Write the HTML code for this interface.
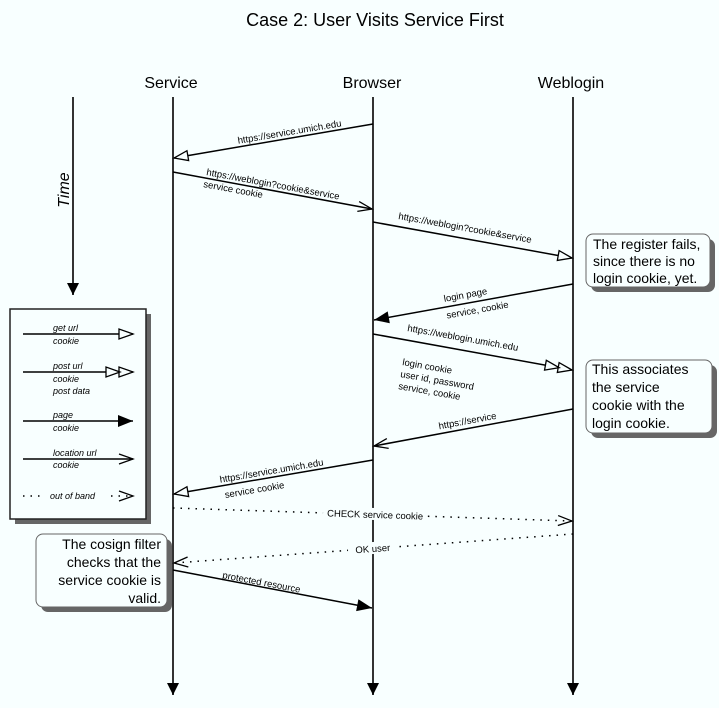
<!DOCTYPE html>
<html><head><meta charset="utf-8"><style>
html,body{margin:0;padding:0;background:#f8ffff;}
svg{display:block;font-family:"Liberation Sans",Arial,sans-serif;}
</style></head><body>
<svg width="719" height="708" viewBox="0 0 719 708" xmlns="http://www.w3.org/2000/svg">
<defs>
<marker id="tri" viewBox="-16 -8 18 16" refX="0" refY="0" markerWidth="18" markerHeight="16" markerUnits="userSpaceOnUse" orient="auto"><path d="M0,0 L-14,-5 L-14,5 Z" fill="#f8ffff" stroke="#000" stroke-width="1.3"/></marker>
<marker id="dtri" viewBox="-30 -8 32 16" refX="0" refY="0" markerWidth="32" markerHeight="16" markerUnits="userSpaceOnUse" orient="auto"><path d="M-13,0 L-27,-5 L-27,5 Z M0,0 L-14,-5 L-14,5 Z" fill="#f8ffff" stroke="#000" stroke-width="1.3"/></marker>
<marker id="fill" viewBox="-16 -8 18 16" refX="0" refY="0" markerWidth="18" markerHeight="16" markerUnits="userSpaceOnUse" orient="auto"><path d="M0,0 L-15,-6 L-15,6 Z" fill="#000"/></marker>
<marker id="vee" viewBox="-16 -8 18 16" refX="0" refY="0" markerWidth="18" markerHeight="16" markerUnits="userSpaceOnUse" orient="auto"><path d="M-14,-5 L0,0 L-14,5" fill="none" stroke="#000" stroke-width="1.3"/></marker>
<marker id="down" viewBox="-8 -14 16 16" refX="0" refY="0" markerWidth="16" markerHeight="16" markerUnits="userSpaceOnUse" orient="0"><path d="M-6,-12 L6,-12 L0,0 Z" fill="#000"/></marker>
</defs>
<rect width="719" height="708" fill="#f8ffff"/>
<text x="375" y="26" font-size="18" text-anchor="middle">Case 2: User Visits Service First</text>
<g font-size="16" text-anchor="middle">
<text x="171" y="88">Service</text>
<text x="372" y="88">Browser</text>
<text x="571" y="88">Weblogin</text>
</g>
<g stroke="#333" stroke-width="2">
<line x1="173" y1="97" x2="173" y2="695" marker-end="url(#down)"/>
<line x1="373" y1="97" x2="373" y2="695" marker-end="url(#down)"/>
<line x1="573" y1="97" x2="573" y2="695" marker-end="url(#down)"/>
<line x1="73" y1="97" x2="73" y2="295" marker-end="url(#down)"/>
</g>
<text transform="translate(69,190) rotate(-90)" font-size="16" font-style="italic" text-anchor="middle">Time</text>

<g stroke="#000" stroke-width="1.5" fill="none">
<line x1="373" y1="124" x2="174" y2="158" marker-end="url(#tri)"/>
<line x1="173" y1="172" x2="372" y2="209" marker-end="url(#vee)"/>
<line x1="373" y1="222" x2="572" y2="258" marker-end="url(#tri)"/>
<line x1="573" y1="284" x2="374" y2="320" marker-end="url(#fill)"/>
<line x1="373" y1="334" x2="572" y2="370" marker-end="url(#dtri)"/>
<line x1="573" y1="409" x2="374" y2="446" marker-end="url(#vee)"/>
<line x1="373" y1="460" x2="174" y2="494" marker-end="url(#tri)"/>
<line x1="173" y1="570" x2="372" y2="608" marker-end="url(#fill)"/>
<line x1="173" y1="508" x2="572" y2="521" stroke-dasharray="1.5 6" marker-end="url(#vee)"/>
<line x1="573" y1="534" x2="174" y2="563" stroke-dasharray="1.5 6" marker-end="url(#vee)"/>
</g>

<g font-size="9.5" fill="#000">
<text transform="translate(290,135) rotate(-9.6)" text-anchor="middle">https://service.umich.edu</text>
<text transform="translate(206,175) rotate(10.5)">https://weblogin?cookie&amp;service</text>
<text transform="translate(203,187) rotate(10.5)">service cookie</text>
<text transform="translate(398,219) rotate(10.2)">https://weblogin?cookie&amp;service</text>
<text transform="translate(466,298) rotate(-10.2)" text-anchor="middle">login page</text>
<text transform="translate(478,313) rotate(-10.2)" text-anchor="middle">service, cookie</text>
<text transform="translate(407,331) rotate(10.2)">https://weblogin.umich.edu</text>
<text transform="translate(402,365) rotate(10)">login cookie</text>
<text transform="translate(400,377) rotate(10)">user id, password</text>
<text transform="translate(398,389) rotate(10)">service, cookie</text>
<text transform="translate(468,424) rotate(-10.5)" text-anchor="middle">https://service</text>
<text transform="translate(272,474) rotate(-9.6)" text-anchor="middle">https://service.umich.edu</text>
<text transform="translate(255,493) rotate(-9.6)" text-anchor="middle">service cookie</text>
<text transform="translate(222,578) rotate(10.7)">protected resource</text>
</g>
<g font-size="9.5">
<rect x="323" y="508" width="104" height="12" fill="#f8ffff" transform="rotate(1.9 375 515)"/>
<text transform="translate(375,518) rotate(1.9)" text-anchor="middle">CHECK service cookie</text>
<rect x="348" y="542" width="50" height="12" fill="#f8ffff" transform="rotate(-4.1 373 549)"/>
<text transform="translate(373,552) rotate(-4.1)" text-anchor="middle">OK user</text>
</g>

<!-- notes -->
<g font-size="14">
<rect x="591" y="239" width="124" height="53" rx="7" fill="#666"/>
<rect x="586" y="234" width="124" height="53" rx="7" fill="#f8ffff" stroke="#666"/>
<text x="593" y="249">The register fails,</text>
<text x="593" y="266">since there is no</text>
<text x="593" y="283">login cookie, yet.</text>

<rect x="591" y="365" width="126" height="73" rx="7" fill="#666"/>
<rect x="586" y="360" width="126" height="73" rx="7" fill="#f8ffff" stroke="#666"/>
<text x="592" y="374">This associates</text>
<text x="592" y="392">the service</text>
<text x="592" y="410">cookie with the</text>
<text x="592" y="428">login cookie.</text>

<rect x="41" y="539" width="131" height="73" rx="7" fill="#666"/>
<rect x="36" y="534" width="131" height="73" rx="7" fill="#f8ffff" stroke="#666"/>
<g text-anchor="end">
<text x="161" y="549">The cosign filter</text>
<text x="161" y="567">checks that the</text>
<text x="161" y="585">service cookie is</text>
<text x="161" y="603">valid.</text>
</g>
</g>

<!-- legend -->
<rect x="15" y="314" width="136" height="210" fill="#666"/>
<rect x="10" y="309" width="136" height="210" fill="#f8ffff" stroke="#222" stroke-width="1.5"/>
<g stroke="#000" stroke-width="1.5" fill="none">
<line x1="23" y1="334" x2="133" y2="334" marker-end="url(#tri)"/>
<line x1="23" y1="372" x2="133" y2="372" marker-end="url(#dtri)"/>
<line x1="23" y1="421" x2="133" y2="421" marker-end="url(#fill)"/>
<line x1="23" y1="459" x2="133" y2="459" marker-end="url(#vee)"/>
<line x1="23" y1="496" x2="40" y2="496" stroke-dasharray="1.5 6"/>
<line x1="111" y1="496" x2="133" y2="496" stroke-dasharray="1.5 6" marker-end="url(#vee)"/>
</g>
<g font-size="9" font-style="italic">
<text x="53" y="331">get url</text>
<text x="53" y="344">cookie</text>
<text x="53" y="369">post url</text>
<text x="53" y="382">cookie</text>
<text x="53" y="394">post data</text>
<text x="53" y="418">page</text>
<text x="53" y="431">cookie</text>
<text x="53" y="456">location url</text>
<text x="53" y="468">cookie</text>
<text x="50" y="499">out of band</text>
</g>
</svg>
</body></html>
